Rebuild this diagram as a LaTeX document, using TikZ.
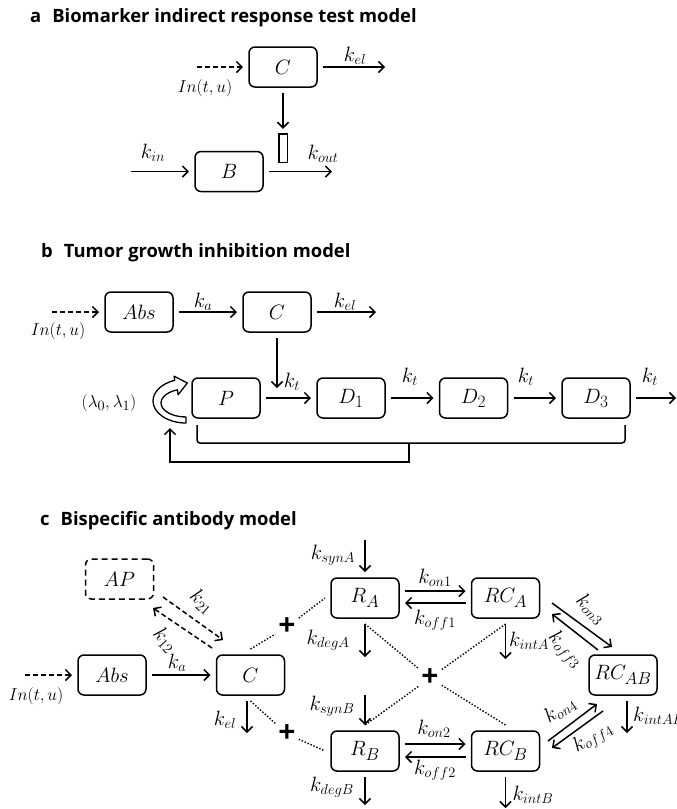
\documentclass[tikz,border=0pt]{standalone}
\usepackage{amsmath,amssymb}
\usepackage{fontspec}
\newfontfamily\headfont{Open Sans}
\usetikzlibrary{arrows.meta}
\DeclareMathSizes{20}{20}{15}{11}
\DeclareMathSizes{22}{22}{16}{12}

\tikzset{
  comp/.style={draw,rectangle,rounded corners=6pt,line width=1.5pt,minimum width=68pt,minimum height=40pt,outer sep=6pt,font=\fontsize{22}{22}\selectfont},
  flow/.style={->,line width=1.5pt},
  inflow/.style={->,line width=1.5pt,dash pattern=on 5pt off 3pt},
  dotline/.style={line width=1.4pt,dash pattern=on 1.4pt off 1.8pt},
  rate/.style={font=\fontsize{20}{20}\selectfont,inner sep=1pt},
  inlab/.style={font=\fontsize{19}{19}\selectfont,inner sep=1pt},
  plus/.style={font=\headfont\bfseries\fontsize{30}{30}\selectfont,inner sep=3pt},
  heading/.style={anchor=base west,inner sep=0pt,font=\headfont\bfseries\fontsize{18.4}{18.4}\selectfont}
}

\begin{document}
\begin{tikzpicture}[x=1pt,y=1pt,>={Straight Barb[length=5.5pt,width=11pt]}]
            \useasboundingbox (0,0) rectangle (677,-809);
            % a
            \node[heading] (titleA) at (30,-22) {a\hspace{0.6em}Biomarker indirect response test model};
            \node[comp] (aC) at (283,-67) {$C$};
            \node[comp] (aB) at (229,-171.5) {$B$};
            \node[draw,line width=1.5pt,minimum width=8.5pt,minimum height=28.5pt,inner sep=0pt,outer sep=5pt] (aInh) at (283,-148) {};
            \coordinate (aIn) at (197,-67);
            \coordinate (aElOut) at (385,-67);
            \coordinate (aInB) at (131,-171.5);
            \coordinate (aOut) at (332,-171.5);
            \draw[inflow] (aIn) -- (aC);
            \draw[flow] (aC) -- (aElOut);
            \draw[flow] (aC) -- (aInh);
            \draw[flow] (aInB) -- (aB);
            \draw[flow] (aB) -- (aOut);
            \node[inlab] (aInLab) at (205,-88) {$In(t,u)$};
            \node[rate] (aElLab) at (355,-56) {$k_{el}$};
            \node[rate] (aKinLab) at (153,-153) {$k_{in}$};
            \node[rate] (aKoutLab) at (323,-154) {$k_{out}$};
            % b
            \node[heading] (titleB) at (41,-257) {b\hspace{0.6em}Tumor growth inhibition model};
            \node[comp] (bAbs) at (139,-312) {$Abs$};
            \node[comp] (bC) at (277,-312) {$C$};
            \node[comp] (bP) at (226,-398) {$P$};
            \node[comp] (bD1) at (351,-398) {$D_1$};
            \node[comp] (bD2) at (473.5,-398) {$D_2$};
            \node[comp] (bD3) at (596,-398) {$D_3$};
            \coordinate (bIn) at (52,-312);
            \coordinate (bElOut) at (376,-312);
            \coordinate (bCt) at (277,-388);
            \coordinate (bOut) at (676,-398);
            \draw[inflow] (bIn) -- (bAbs);
            \draw[flow] (bAbs) -- (bC);
            \draw[flow] (bC) -- (bElOut);
            \draw[flow] (bC) -- (bCt);
            \draw[flow] (bP) -- (bD1);
            \draw[flow] (bD1) -- (bD2);
            \draw[flow] (bD2) -- (bD3);
            \draw[flow] (bD3) -- (bOut);
            \node[inlab] (bInLab) at (58,-331) {$In(t,u)$};
            \node[rate] (bKaLab) at (203,-302) {$k_a$};
            \node[rate] (bElLab) at (345,-302) {$k_{el}$};
            \node[rate] (bKt0) at (292,-382) {$k_t$};
            \node[rate] (bKt1) at (410,-377) {$k_t$};
            \node[rate] (bKt2) at (526,-377) {$k_t$};
            \node[rate] (bKt3) at (650,-377) {$k_t$};
            \node[inlab] (bLam) at (109,-403) {$(\lambda_0,\lambda_1)$};
            % growth loop
            \draw[line width=1.3pt,line join=round,fill=white] (186,-423)
                arc[start angle=270,end angle=110,x radius=33,y radius=22]
                -- (174.1,-376.2) -- (187.3,-383) -- (178.1,-394.8) -- (177.45,-389.8)
                arc[start angle=110,end angle=270,x radius=25,y radius=14] -- cycle;
            \coordinate (brL) at (197,-425);
            \coordinate (brM) at (409,-443);
            \coordinate (brR) at (625,-425);
            \coordinate (fbEnd) at (170,-428);
            \draw[line width=1.5pt,rounded corners=3pt] (brL) |- (brM) -| (brR);
            \draw[flow] (brM) -- ++(0,-19) -| (fbEnd);
            % c
            \node[heading] (titleC) at (40,-525) {c\hspace{0.6em}Bispecific antibody model};
            \node[comp,dash pattern=on 6pt off 4pt] (AP) at (119.5,-579) {$AP$};
            \node[comp] (cAbs) at (112,-675) {$Abs$};
            \node[comp] (cC) at (250.5,-675) {$C$};
            \node[comp] (RA) at (365,-598) {$R_A$};
            \node[comp] (RB) at (365,-751) {$R_B$};
            \node[comp] (RCA) at (505.5,-598) {$RC_A$};
            \node[comp] (RCB) at (505.5,-751) {$RC_B$};
            \node[comp] (RCAB) at (623,-675) {$RC_{AB}$};
            \node[plus] (pA) at (287,-627) {+};
            \node[plus] (pB) at (287,-734) {+};
            \node[plus] (pX) at (430,-678) {+};
            \coordinate (cIn) at (25,-675);
            \coordinate (cEl) at (247,-733);
            \coordinate (sA) at (365,-540);
            \coordinate (dA) at (365,-657);
            \coordinate (sB) at (365,-695);
            \coordinate (dB) at (365,-805);
            \coordinate (iA) at (505.5,-659);
            \coordinate (iB) at (505.5,-808);
            \coordinate (iAB) at (627,-733);
            \draw[inflow] (cIn) -- (cAbs);
            \draw[flow] (cAbs) -- (cC);
            \draw[flow] ([xshift=-3.5pt]cC.south) -- (cEl);
            \draw[inflow] ([shift={(43.5,-18)}]AP.center) -- ([shift={(-27.5,35)}]cC.center);
            \draw[inflow] ([shift={(-38.5,27)}]cC.center) -- ([shift={(33.5,-29)}]AP.center);
            \draw[dotline] (cC.north) -- (pA) -- (RA.west);
            \draw[dotline] (cC.south) -- (pB) -- (RB.west);
            \draw[dotline] (RA.south) -- (pX) -- (RCB.north);
            \draw[dotline] (RCA.south) -- (pX) -- (RB.north);
            \draw[flow] (sA) -- (RA);
            \draw[flow] (RA) -- (dA);
            \draw[flow] (sB) -- (RB);
            \draw[flow] (RB) -- (dB);
            \draw[flow] (RCA) -- (iA);
            \draw[flow] (RCB) -- (iB);
            \draw[flow] ([xshift=4pt]RCAB.south) -- (iAB);
            \draw[flow] ([yshift=7pt]RA.east) -- ([yshift=7pt]RCA.west);
            \draw[flow] ([yshift=-5pt]RCA.west) -- ([yshift=-5pt]RA.east);
            \draw[flow] ([yshift=7pt]RB.east) -- ([yshift=7pt]RCB.west);
            \draw[flow] ([yshift=-6pt]RCB.west) -- ([yshift=-6pt]RB.east);
            \draw[flow] ([shift={(46.5,-5)}]RCA.center) -- ([shift={(-11,28)}]RCAB.center);
            \draw[flow] ([shift={(-25,25)}]RCAB.center) -- ([shift={(46.5,-16)}]RCA.center);
            \draw[flow] ([shift={(42.5,10)}]RCB.center) -- ([shift={(-26,-29)}]RCAB.center);
            \draw[flow] ([shift={(-20,-36)}]RCAB.center) -- ([shift={(46.5,3)}]RCB.center);
            \node[inlab] (cInLab) at (36,-696) {$In(t,u)$};
            \node[rate] (cKaLab) at (177,-663) {$k_a$};
            \node[rate] (cElLab) at (225,-720) {$k_{el}$};
            \node[rate,rotate=-42] (k21Lab) at (202,-602) {$k_{21}$};
            \node[rate,rotate=-48] (k12Lab) at (165,-640) {$k_{12}$};
            \node[rate] (synALab) at (333,-555) {$k_{synA}$};
            \node[rate] (degALab) at (328,-640) {$k_{degA}$};
            \node[rate] (synBLab) at (332,-706) {$k_{synB}$};
            \node[rate] (degBLab) at (332,-787) {$k_{degB}$};
            \node[rate] (on1Lab) at (435,-578) {$k_{on1}$};
            \node[rate] (off1Lab) at (435,-620) {$k_{off1}$};
            \node[rate] (on2Lab) at (434,-729) {$k_{on2}$};
            \node[rate] (off2Lab) at (435,-770) {$k_{off2}$};
            \node[rate] (intALab) at (529,-641) {$k_{intA}$};
            \node[rate] (intBLab) at (533,-795) {$k_{intB}$};
            \node[rate,anchor=west] (intABLab) at (632,-716) {$k_{intAB}$};
            \node[rate,rotate=-45] (on3Lab) at (591,-609) {$k_{on3}$};
            \node[rate,rotate=-48] (off3Lab) at (565,-650) {$k_{off3}$};
            \node[rate,rotate=33] (on4Lab) at (560,-710) {$k_{on4}$};
            \node[rate,rotate=30] (off4Lab) at (593,-738) {$k_{off4}$};
        \end{tikzpicture}
\end{document}
